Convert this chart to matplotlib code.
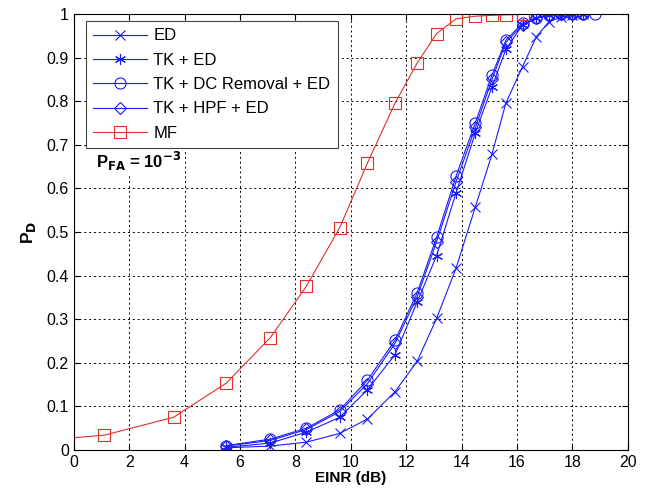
import numpy as np
import matplotlib.pyplot as plt

plt.rcParams['font.family'] = ['Liberation Sans', 'DejaVu Sans']

# EINR sample points (dB) for the energy-detector variants
einr = [5.5, 7.1, 8.4, 9.6, 10.6, 11.6, 12.4, 13.1, 13.8, 14.5, 15.1,
        15.6, 16.2, 16.7, 17.15, 17.6, 18.0, 18.4, 18.8]

pd_ed = [0.005, 0.009, 0.018, 0.038, 0.071, 0.134, 0.204, 0.302, 0.417, 0.558,
         0.679, 0.796, 0.879, 0.948, 0.982, 0.993, 0.998, 1.0]
pd_tk = [0.006, 0.016, 0.041, 0.075, 0.138, 0.219, 0.340, 0.446, 0.590, 0.728,
         0.833, 0.919, 0.975, 0.990, 0.997, 0.999, 1.0, 1.0]
pd_dc = [0.010, 0.025, 0.050, 0.092, 0.160, 0.252, 0.361, 0.488, 0.628, 0.751,
         0.860, 0.940, 0.979, 0.992, 0.998, 1.0, 1.0, 1.0, 1.0]
pd_hpf = [0.009, 0.022, 0.047, 0.088, 0.152, 0.245, 0.352, 0.478, 0.615, 0.740,
          0.850, 0.935, 0.975, 0.990, 0.997, 1.0, 1.0, 1.0]

# matched filter (first point is where the curve leaves the axis, no marker)
einr_mf = [0, 1.1, 3.6, 5.5, 7.1, 8.4, 9.6, 10.6, 11.6, 12.4, 13.1, 13.8,
           14.5, 15.1, 15.6, 16.2]
pd_mf = [0.028, 0.034, 0.075, 0.153, 0.258, 0.376, 0.510, 0.658, 0.796, 0.888,
         0.955, 0.989, 0.995, 0.997, 0.998, 0.999]

blue = '#1a1aff'
red = '#e0302e'

fig = plt.figure(figsize=(6.65, 4.97), dpi=100)
ax = fig.add_axes([0.111, 0.0946, 0.833, 0.8772])

kw = dict(linewidth=0.8, fillstyle='none', markeredgewidth=0.8)
ax.plot(einr[:len(pd_ed)], pd_ed, color=blue, marker='x', markersize=7, label='ED', **kw)
ax.plot(einr[:len(pd_tk)], pd_tk, color=blue, marker=(6, 2, 0), markersize=8,
        label='TK + ED', **kw)
ax.plot(einr[:len(pd_dc)], pd_dc, color=blue, marker='o', markersize=8,
        label='TK + DC Removal + ED', **kw)
ax.plot(einr[:len(pd_hpf)], pd_hpf, color=blue, marker='D', markersize=6.5,
        label='TK + HPF + ED', **kw)
ax.plot(einr_mf, pd_mf, color=red, marker='s', markersize=8,
        markevery=list(range(1, len(einr_mf))), label='MF', **kw)

ax.set_xlim(0, 20)
ax.set_ylim(0, 1)
ax.set_xticks(np.arange(0, 21, 2))
ax.set_yticks(np.arange(0, 1.01, 0.1))
ax.set_yticklabels(['0', '0.1', '0.2', '0.3', '0.4', '0.5', '0.6', '0.7', '0.8', '0.9', '1'])
ax.tick_params(direction='in', top=True, right=True, labelsize=11.5, length=4)
ax.grid(True, color='black', linestyle=(0, (2, 3)), linewidth=0.7)

ax.set_xlabel('EINR (dB)', fontsize=11, fontweight='bold', labelpad=1)
ax.set_ylabel('P$_\\mathbf{D}$', fontsize=12.5, fontweight='bold', labelpad=6)

ax.text(0.04, 0.662, 'P$_\\mathbf{FA}$ = 10$^\\mathbf{-3}$', transform=ax.transAxes,
        fontsize=12, fontweight='bold', va='center',
        bbox=dict(facecolor='white', edgecolor='none', pad=1))

leg = ax.legend(loc='upper left', bbox_to_anchor=(0.0217, 0.984), borderaxespad=0,
                fontsize=12, handlelength=3.2, handletextpad=0.4, labelspacing=0.56,
                fancybox=False, framealpha=1, edgecolor='#444444', borderpad=0.45)
leg.get_frame().set_linewidth(0.8)

plt.savefig('out.png', dpi=100)
